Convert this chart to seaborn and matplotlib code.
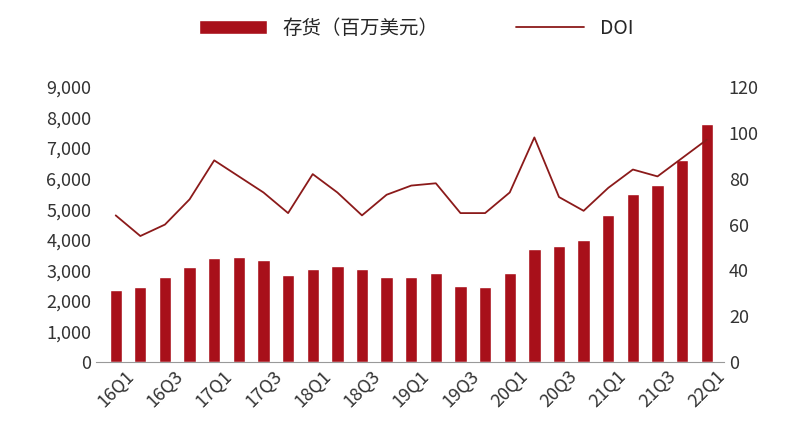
import numpy as np
import pandas as pd
import matplotlib
matplotlib.use("Agg")
import matplotlib.pyplot as plt
import seaborn as sns

quarters = [f"{y}Q{q}" for y in range(16, 22) for q in range(1, 5)] + ["22Q1"]
inventory = [2350, 2450, 2800, 3100, 3400, 3450, 3350, 2850, 3050, 3150, 3050, 2800,
             2800, 2900, 2500, 2450, 2900, 3700, 3800, 4000, 4800, 5500, 5800, 6600, 7800]
doi = [64, 55, 60, 71, 88, 81, 74, 65, 82, 74, 64, 73, 77, 78, 65, 65, 74, 98, 72, 66,
       76, 84, 81, 89, 97]

sns.set_style("white")
plt.rcParams['font.family'] = ['Noto Sans CJK SC', 'DejaVu Sans']

df = pd.DataFrame({"q": quarters, "inv": inventory, "doi": doi})
fig, ax = plt.subplots(figsize=(8, 4.46), dpi=100)
sns.barplot(data=df, x="q", y="inv", color="#a8101a", saturation=1, width=0.5,
            ax=ax, label="存货（百万美元）", legend=False)
if ax.get_legend():
    ax.get_legend().remove()
ax2 = ax.twinx()
ax2.plot(np.arange(len(doi)), doi, color="#8b1a1a", lw=1.3, label="DOI")

ax.set_ylim(0, 9000)
ax.set_yticks(range(0, 9001, 1000))
ax.set_yticklabels([f"{v:,}" for v in range(0, 9001, 1000)])
ax2.set_ylim(0, 120)
ax2.set_yticks(range(0, 121, 20))
ax.set_xticks(range(0, len(quarters), 2))
ax.set_xticklabels(quarters[::2], rotation=45)
ax.set_xlim(-0.8, len(quarters) - 0.3)
ax.set_xlabel("")
ax.set_ylabel("")
for a in (ax, ax2):
    a.tick_params(labelsize=13, colors="#333333", length=0)
    for s in a.spines.values():
        s.set_visible(False)
ax.spines["bottom"].set_visible(True)
ax.spines["bottom"].set_color("#999999")

h1, l1 = ax.get_legend_handles_labels()
h2, l2 = ax2.get_legend_handles_labels()
fig.legend(h1[:1] + h2, l1[:1] + l2, loc="upper center", ncol=2, frameon=False,
           fontsize=14, bbox_to_anchor=(0.52, 1.0), handlelength=3.5, columnspacing=4)
fig.subplots_adjust(left=0.12, right=0.905, top=0.805, bottom=0.188)
fig.savefig("out.png")
